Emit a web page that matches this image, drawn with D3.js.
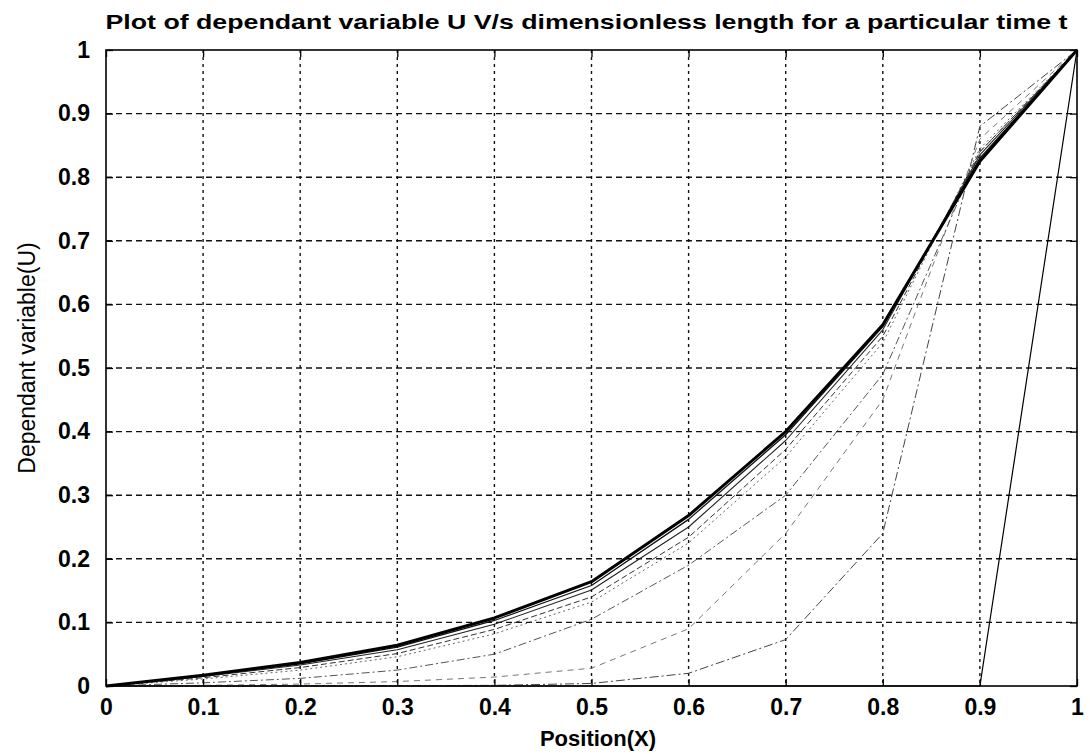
<!DOCTYPE html>
<html><head><meta charset="utf-8">
<script src="https://cdn.jsdelivr.net/npm/d3@7"></script>
<style>body{margin:0;background:#fff}svg{display:block}</style>
</head><body>
<svg id="c" width="1090" height="754"></svg>
<script>
// ---- data ----
const positions = [0,0.1,0.2,0.3,0.4,0.5,0.6,0.7,0.8,0.9,1];
const xTickValues = [0,0.1,0.2,0.3,0.4,0.5,0.6,0.7,0.8,0.9,1];
const xTickLabels = ["0","0.1","0.2","0.3","0.4","0.5","0.6","0.7","0.8","0.9","1"];
const yTickValues = [0,0.1,0.2,0.3,0.4,0.5,0.6,0.7,0.8,0.9,1];
const yTickLabels = ["0","0.1","0.2","0.3","0.4","0.5","0.6","0.7","0.8","0.9","1"];
const uStep  = [0,0,0,0,0,0,0,0,0,0,1];
const uEarly = [0,0,0,0.0005,0.001,0.004,0.02,0.073,0.24,0.88,1];
const uT3    = [0,0.001,0.003,0.007,0.014,0.028,0.09,0.24,0.45,0.86,1];
const uT4    = [0,0.005,0.012,0.025,0.05,0.105,0.19,0.30,0.49,0.84,1];
const uT5    = [0,0.011,0.025,0.046,0.082,0.132,0.225,0.36,0.54,0.845,1];
const uT6    = [0,0.013,0.029,0.051,0.089,0.14,0.234,0.372,0.55,0.84,1];
const uT7    = [0,0.015,0.033,0.057,0.097,0.151,0.25,0.386,0.56,0.835,1];
const uT8    = [0,0.016,0.035,0.061,0.103,0.158,0.262,0.395,0.565,0.83,1];
const uFinal = [0,0.017,0.037,0.064,0.107,0.164,0.268,0.40,0.568,0.825,1];
const titleText = "Plot of dependant variable U V/s dimensionless length for a particular time t";
const xLabelText = "Position(X)";
const yLabelText = "Dependant variable(U)";

// ---- styles (kept separate from data) ----
const seriesList = [
  {u:uStep,  color:"#000", w:1.2, dash:null},
  {u:uEarly, color:"#444", w:1.0, dash:"9,3,2,3"},
  {u:uT3,    color:"#777", w:1.0, dash:"6,5"},
  {u:uT4,    color:"#555", w:1.0, dash:"8,3,2,3"},
  {u:uT5,    color:"#666", w:1.0, dash:"2,3"},
  {u:uT6,    color:"#333", w:1.0, dash:"6,3"},
  {u:uT7,    color:"#222", w:1.1, dash:null},
  {u:uT8,    color:"#111", w:1.3, dash:null},
  {u:uFinal, color:"#000", w:3.0, dash:null}
];

const L=106, R=1077, T=50, B=686;
const svg = d3.select("#c");
const x = d3.scaleLinear().domain([0,1]).range([L,R]);
const y = d3.scaleLinear().domain([0,1]).range([B,T]);
const font = "'Liberation Sans', Arial, Helvetica, sans-serif";

// grid
const g = svg.append("g");
g.selectAll("line.gx").data(xTickValues.slice(1,-1)).join("line")
  .attr("x1",d=>x(d)).attr("x2",d=>x(d)).attr("y1",T).attr("y2",B)
  .attr("stroke","#111").attr("stroke-width",1.4).attr("stroke-dasharray","3,4");
g.selectAll("line.gy").data(yTickValues.slice(1,-1)).join("line")
  .attr("y1",d=>y(d)).attr("y2",d=>y(d)).attr("x1",L).attr("x2",R)
  .attr("stroke","#111").attr("stroke-width",1.4).attr("stroke-dasharray","6,4");

// curves
const line = d3.line().x((d,i)=>x(positions[i])).y(d=>y(d));
svg.append("g").selectAll("path").data(seriesList).join("path")
  .attr("d",s=>line(s.u)).attr("fill","none")
  .attr("stroke",s=>s.color).attr("stroke-width",s=>s.w)
  .attr("stroke-dasharray",s=>s.dash).attr("stroke-linejoin","round");

// axes (MATLAB style, ticks inward on all sides)
const tl = 7;
const axB = d3.axisBottom(x).tickValues(xTickValues).tickFormat((d,i)=>xTickLabels[i]).tickSizeInner(-tl).tickSizeOuter(0).tickPadding(13);
const axT = d3.axisTop(x).tickValues(xTickValues).tickFormat("").tickSizeInner(-tl).tickSizeOuter(0);
const axL = d3.axisLeft(y).tickValues(yTickValues).tickFormat((d,i)=>yTickLabels[i]).tickSizeInner(-tl).tickSizeOuter(0).tickPadding(16);
const axR = d3.axisRight(y).tickValues(yTickValues).tickFormat("").tickSizeInner(-tl).tickSizeOuter(0);
function styleAxis(sel){
  sel.select(".domain").remove();
  sel.selectAll(".tick line").attr("stroke","#000").attr("stroke-width",1.3);
  sel.selectAll(".tick text").attr("fill","#000").style("font-family",font)
     .style("font-weight","bold").style("font-size","23px");
}
svg.append("g").attr("transform",`translate(0,${B})`).call(axB).call(styleAxis);
svg.append("g").attr("transform",`translate(0,${T})`).call(axT).call(styleAxis);
svg.append("g").attr("transform",`translate(${L},0)`).call(axL).call(styleAxis);
svg.append("g").attr("transform",`translate(${R},0)`).call(axR).call(styleAxis);

// box
svg.append("rect").attr("x",L).attr("y",T).attr("width",R-L).attr("height",B-T)
  .attr("fill","none").attr("stroke","#000").attr("stroke-width",1.6);

// title & labels
svg.append("text").attr("x",(L+R)/2 - 5).attr("y",29).attr("text-anchor","middle")
  .attr("textLength",962).attr("lengthAdjust","spacingAndGlyphs")
  .style("font-family",font).style("font-weight","bold").style("font-size","21px")
  .text(titleText);
svg.append("text").attr("x",598).attr("y",746).attr("text-anchor","middle")
  .style("font-family",font).style("font-weight","bold").style("font-size","22px")
  .text(xLabelText);
svg.append("text").attr("transform","translate(35,358) rotate(-90)").attr("text-anchor","middle")
  .style("font-family",font).style("font-size","23px")
  .text(yLabelText);
</script>
</body></html>
